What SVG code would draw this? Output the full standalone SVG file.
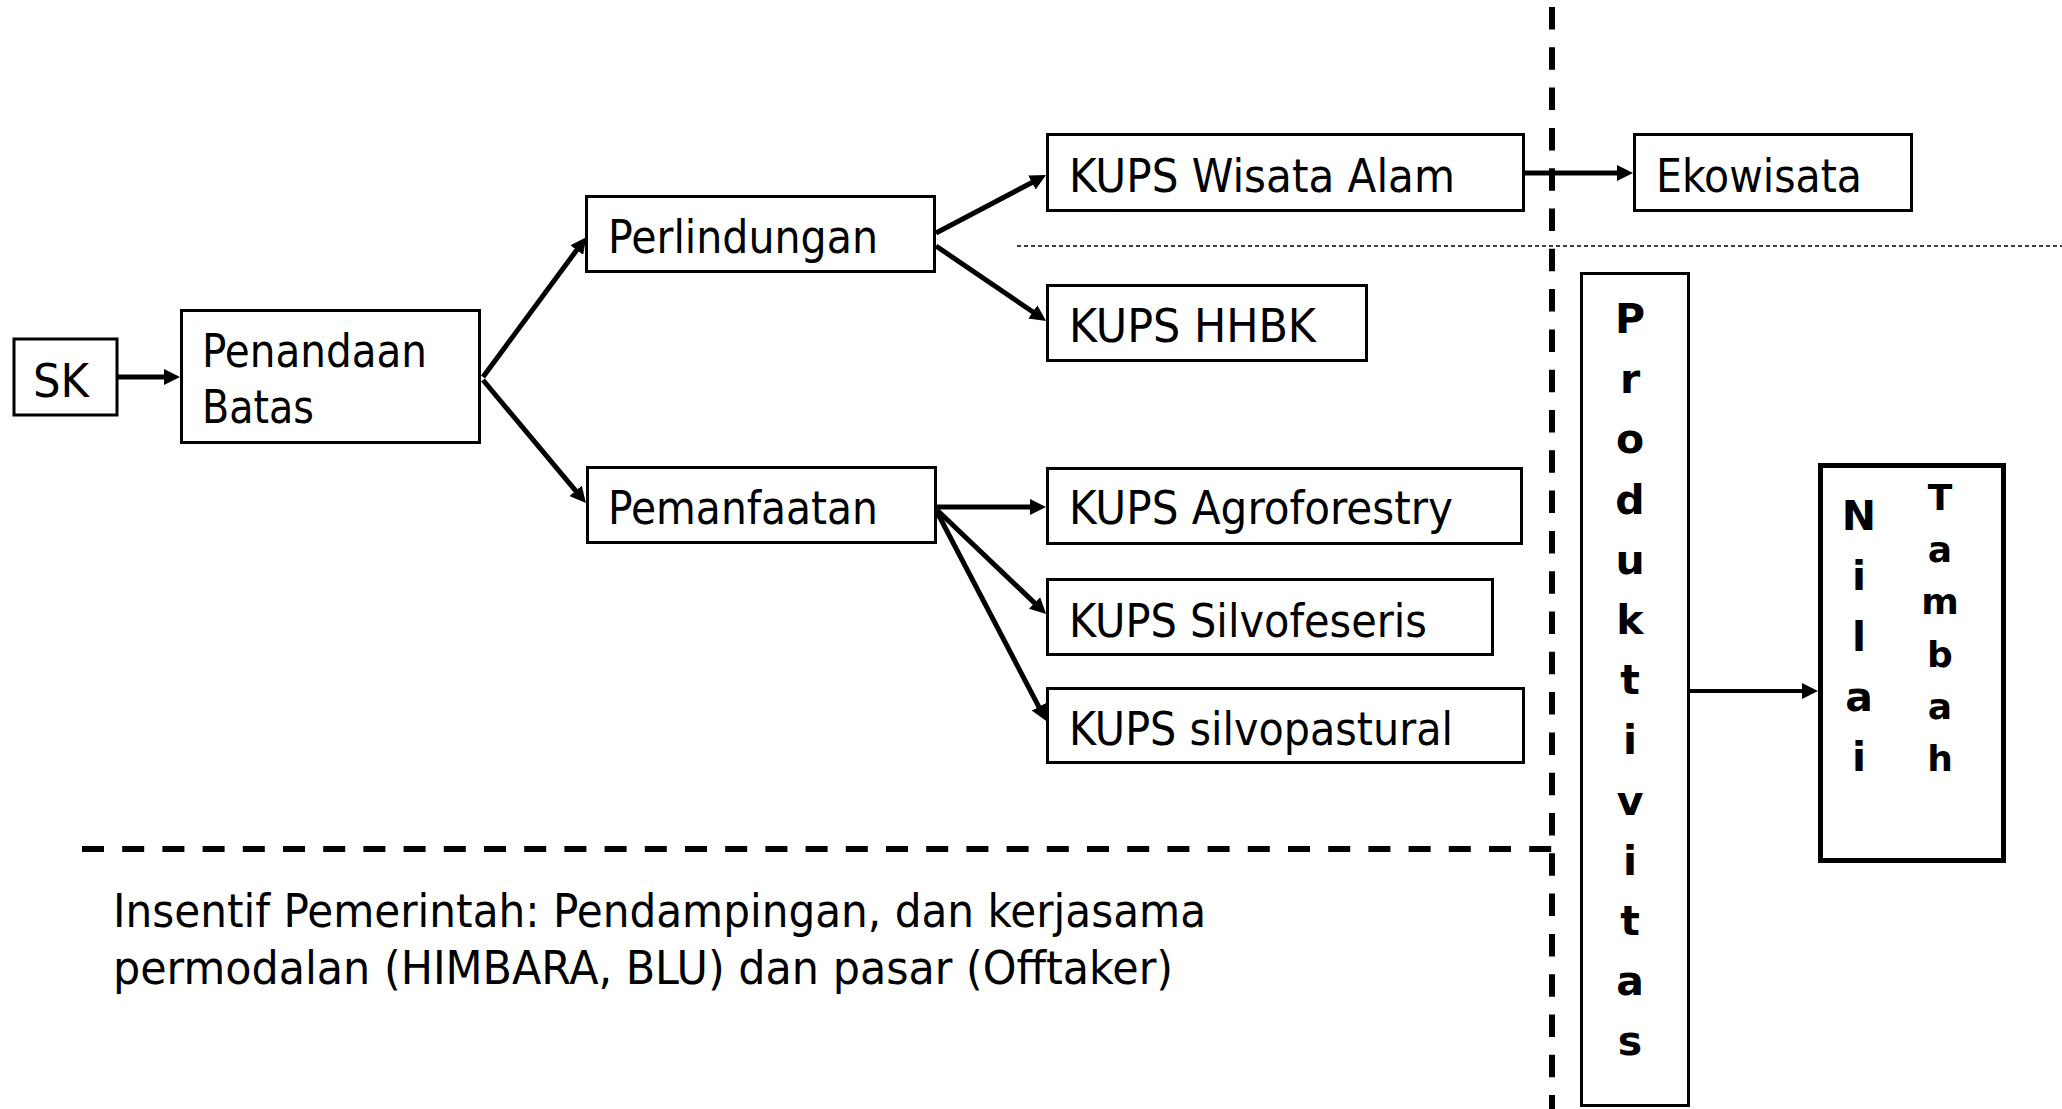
<svg xmlns="http://www.w3.org/2000/svg" width="2062" height="1109" viewBox="0 0 2062 1109">
<style>
.box{fill:#fff;stroke:#000;stroke-width:3}
.t{font-family:"DejaVu Sans","Liberation Sans",sans-serif;font-stretch:condensed;font-size:47px;fill:#000}
.b{font-family:"DejaVu Sans","Liberation Sans",sans-serif;font-weight:bold;fill:#000;text-anchor:middle}
.ar{stroke:#000;stroke-width:5;fill:none;marker-end:url(#ah)}
.sep{stroke:#000;stroke-width:6;fill:none}
</style>
<defs>
<marker id="ah" markerUnits="userSpaceOnUse" markerWidth="16" markerHeight="16" refX="6" refY="8" orient="auto">
<path d="M0,0 L16,8 L0,16 z" fill="#000"/>
</marker>
</defs>
<rect width="2062" height="1109" fill="#fff"/>

<g id="separators">
<line class="sep" x1="1552" y1="7" x2="1552" y2="1109" stroke-dasharray="22.5 17.8"/>
<line class="sep" x1="82" y1="849" x2="1552" y2="849" stroke-dasharray="22 18.2"/>
<line x1="1017" y1="246" x2="2062" y2="246" stroke="#000" stroke-width="1.5" stroke-dasharray="4 3"/>
</g>

<g id="connectors">
<line class="ar" x1="118" y1="377" x2="170" y2="377"/>
<line class="ar" x1="483" y1="377" x2="580.3" y2="245.2"/>
<line class="ar" x1="483" y1="380" x2="579.5" y2="495.4"/>
<line class="ar" x1="936" y1="233" x2="1037.2" y2="179.7"/>
<line class="ar" x1="936" y1="246" x2="1037.8" y2="315.3"/>
<line class="ar" x1="937" y1="507" x2="1036" y2="507"/>
<line class="ar" x1="937" y1="510" x2="1038.9" y2="607.1"/>
<line class="ar" x1="937" y1="512" x2="1041.6" y2="712.1"/>
<line class="ar" x1="1525" y1="173" x2="1623" y2="173"/>
<line class="ar" x1="1690" y1="691" x2="1808" y2="691" style="stroke-width:4"/>
</g>

<g id="node-sk">
<rect class="box" x="14" y="339" width="103" height="76"/>
<text class="t" x="33" y="397" textLength="56" lengthAdjust="spacingAndGlyphs">SK</text>
</g>

<g id="node-penandaan">
<rect class="box" x="181.5" y="310.5" width="298" height="132"/>
<text class="t" x="202" y="367" textLength="225" lengthAdjust="spacingAndGlyphs">Penandaan</text>
<text class="t" x="202" y="423" textLength="112" lengthAdjust="spacingAndGlyphs">Batas</text>
</g>

<g id="node-perlindungan">
<rect class="box" x="586.5" y="196.5" width="348" height="75"/>
<text class="t" x="608" y="253" textLength="270" lengthAdjust="spacingAndGlyphs">Perlindungan</text>
</g>

<g id="node-pemanfaatan">
<rect class="box" x="587.5" y="467.5" width="348" height="75"/>
<text class="t" x="608" y="524" textLength="270" lengthAdjust="spacingAndGlyphs">Pemanfaatan</text>
</g>

<g id="node-wisata">
<rect class="box" x="1047.5" y="134.5" width="476" height="76"/>
<text class="t" x="1069" y="192" textLength="386" lengthAdjust="spacingAndGlyphs">KUPS Wisata Alam</text>
</g>

<g id="node-hhbk">
<rect class="box" x="1047.5" y="285.5" width="319" height="75"/>
<text class="t" x="1069" y="342" textLength="247" lengthAdjust="spacingAndGlyphs">KUPS HHBK</text>
</g>

<g id="node-agroforestry">
<rect class="box" x="1047.5" y="468.5" width="474" height="75"/>
<text class="t" x="1069" y="524" textLength="384" lengthAdjust="spacingAndGlyphs">KUPS Agroforestry</text>
</g>

<g id="node-silvofeseris">
<rect class="box" x="1047.5" y="579.5" width="445" height="75"/>
<text class="t" x="1069" y="637" textLength="358" lengthAdjust="spacingAndGlyphs">KUPS Silvofeseris</text>
</g>

<g id="node-silvopastural">
<rect class="box" x="1047.5" y="688.5" width="476" height="74"/>
<text class="t" x="1069" y="745" textLength="384" lengthAdjust="spacingAndGlyphs">KUPS silvopastural</text>
</g>

<g id="node-ekowisata">
<rect class="box" x="1634.5" y="134.5" width="277" height="76"/>
<text class="t" x="1656" y="192" textLength="206" lengthAdjust="spacingAndGlyphs">Ekowisata</text>
</g>

<g id="node-produktivitas">
<rect class="box" x="1581.5" y="273.5" width="107" height="832"/>
<text class="b" font-size="41"><tspan x="1630" y="333">P</tspan><tspan x="1630" y="393.2">r</tspan><tspan x="1630" y="453.4">o</tspan><tspan x="1630" y="513.6">d</tspan><tspan x="1630" y="573.8">u</tspan><tspan x="1630" y="634">k</tspan><tspan x="1630" y="694.2">t</tspan><tspan x="1630" y="754.4">i</tspan><tspan x="1630" y="814.6">v</tspan><tspan x="1630" y="874.8">i</tspan><tspan x="1630" y="935">t</tspan><tspan x="1630" y="995.2">a</tspan><tspan x="1630" y="1055.4">s</tspan></text>
</g>

<g id="node-nilai-tambah">
<rect class="box" x="1820.5" y="465.5" width="183" height="395" style="stroke-width:5"/>
<text class="b" font-size="41"><tspan x="1859" y="530">N</tspan><tspan x="1859" y="590.3">i</tspan><tspan x="1859" y="650.5">l</tspan><tspan x="1859" y="710.8">a</tspan><tspan x="1859" y="771">i</tspan></text>
<text class="b" font-size="36"><tspan x="1940" y="510">T</tspan><tspan x="1940" y="562.2">a</tspan><tspan x="1940" y="614.4">m</tspan><tspan x="1940" y="666.6">b</tspan><tspan x="1940" y="718.8">a</tspan><tspan x="1940" y="771">h</tspan></text>
</g>

<g id="node-insentif">
<text class="t" style="font-size:46px" x="113" y="927" textLength="1093" lengthAdjust="spacingAndGlyphs">Insentif Pemerintah: Pendampingan, dan kerjasama</text>
<text class="t" style="font-size:46px" x="113" y="984" textLength="1060" lengthAdjust="spacingAndGlyphs">permodalan (HIMBARA, BLU) dan pasar (Offtaker)</text>
</g>
</svg>
